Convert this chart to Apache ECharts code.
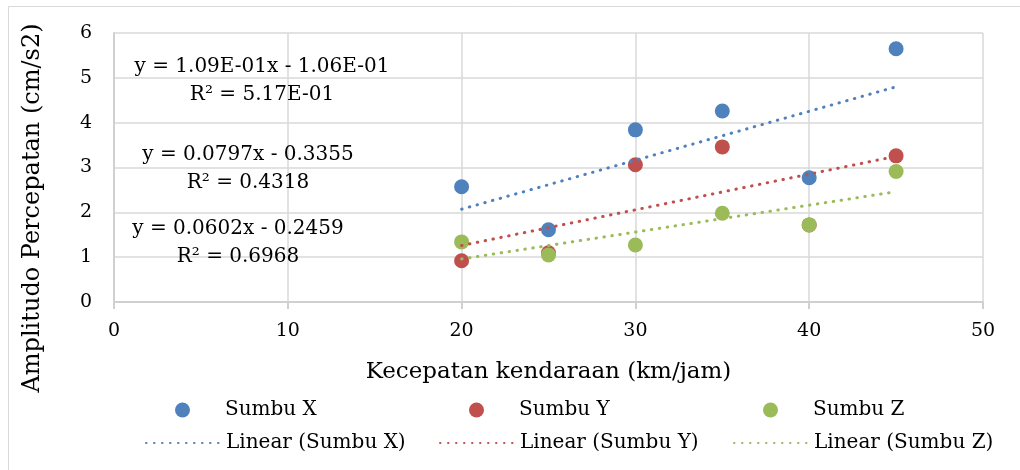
<!DOCTYPE html>
<html>
<head>
<meta charset="utf-8">
<script src="https://cdn.jsdelivr.net/npm/echarts@6/dist/echarts.min.js"></script>
<style>html,body{margin:0;padding:0;background:#fff}#c{width:1020px;height:470px}</style>
</head>
<body>
<div id="c"></div>
<script>
// Data
const speeds = [20, 25, 30, 35, 40, 45];
const sumbuX = [2.57, 1.61, 3.84, 4.26, 2.77, 5.65];
const sumbuY = [0.92, 1.10, 3.06, 3.46, 1.72, 3.26];
const sumbuZ = [1.34, 1.05, 1.27, 1.98, 1.72, 2.91];
// Trend line endpoints (x = 20 and x = 45)
const trendX = [20, 45];
const trendSumbuX = [2.07, 4.80];
const trendSumbuY = [1.26, 3.25];
const trendSumbuZ = [0.96, 2.46];
const seriesNames = ['Sumbu X', 'Sumbu Y', 'Sumbu Z'];
const trendNames = ['Linear (Sumbu X)', 'Linear (Sumbu Y)', 'Linear (Sumbu Z)'];
const equations = [
  ['y = 1.09E-01x - 1.06E-01', 'R² = 5.17E-01'],
  ['y = 0.0797x - 0.3355', 'R² = 0.4318'],
  ['y = 0.0602x - 0.2459', 'R² = 0.6968']
];
const xTitle = 'Kecepatan kendaraan (km/jam)';
const yTitle = 'Amplitudo Percepatan (cm/s2)';

const colors = ['#4F81BD', '#C0504D', '#9BBB59'];
const FONT = 'DejaVu Serif';
const pts = a => speeds.map((s, i) => [s, a[i]]);
const tline = a => trendX.map((s, i) => [s, a[i]]);

const chart = echarts.init(document.getElementById('c'));
const scatterData = [sumbuX, sumbuY, sumbuZ];
const trendData = [trendSumbuX, trendSumbuY, trendSumbuZ];

const series = [];
scatterData.forEach((d, i) => series.push({
  name: seriesNames[i], type: 'scatter', data: pts(d), symbol: 'circle', symbolSize: 15,
  itemStyle: { color: colors[i], opacity: 1 }, z: 2, silent: true
}));
trendData.forEach((d, i) => series.push({
  name: trendNames[i], type: 'line', data: tline(d), showSymbol: false, symbol: 'none',
  lineStyle: { color: colors[i], width: 3, type: [0.5, 7.5], cap: 'round' },
  itemStyle: { color: colors[i] }, z: 3, silent: true
}));

const legendLefts = [145, 439, 733];
const legends = [];
seriesNames.forEach((n, i) => legends.push({
  data: [n], left: legendLefts[i] + 30, top: 400, padding: 0,
  itemWidth: 75, itemHeight: 15, selectedMode: false,
  textStyle: { fontFamily: FONT, fontSize: 20, color: '#000' }
}));
trendNames.forEach((n, i) => legends.push({
  data: [n], left: legendLefts[i], top: 433, padding: 0,
  itemWidth: 75, itemHeight: 15, selectedMode: false,
  itemStyle: { opacity: 0 },
  textStyle: { fontFamily: FONT, fontSize: 20, color: '#000' }
}));

const eqPos = [[262, 67, 95], [248, 155, 183], [238, 229, 257]];
const graphics = [
  { type: 'rect', left: 6, top: 4, silent: true,
    shape: { x: 0, y: 0, width: 1040, height: 500 },
    style: { fill: 'none', stroke: '#d9d9d9', lineWidth: 1 } },
  { type: 'text', x: 33, y: 208, rotation: Math.PI / 2, silent: true,
    style: { text: yTitle, fontFamily: FONT, fontSize: 24, fill: '#000', align: 'center', verticalAlign: 'middle' } }
];
equations.forEach((e, i) => {
  graphics.push({ type: 'text', x: eqPos[i][0], y: eqPos[i][1], silent: true, z: 10,
    style: { text: e[0], fontFamily: FONT, fontSize: 20, fill: '#000', align: 'center', verticalAlign: 'middle' } });
  graphics.push({ type: 'text', x: eqPos[i][0], y: eqPos[i][2], silent: true, z: 10,
    style: { text: e[1], fontFamily: FONT, fontSize: 20, fill: '#000', align: 'center', verticalAlign: 'middle' } });
});

chart.setOption({
  animation: false,
  backgroundColor: '#fff',
  grid: { left: 114, right: 37, top: 33, bottom: 168, containLabel: false },
  xAxis: {
    type: 'value', min: 0, max: 50, interval: 10,
    name: xTitle, nameLocation: 'middle', nameGap: 59,
    nameTextStyle: { fontFamily: FONT, fontSize: 23, color: '#000' },
    axisLine: { show: true, onZero: false, lineStyle: { color: '#d0d0d0', width: 2 } },
    axisTick: { show: true, length: 7, lineStyle: { color: '#d0d0d0', width: 2 } },
    axisLabel: { fontFamily: FONT, fontSize: 19, color: '#000', margin: 20 },
    splitLine: { show: true, lineStyle: { color: '#d9d9d9', width: 1.5 } }
  },
  yAxis: {
    type: 'value', min: 0, max: 6, interval: 1,
    axisLine: { show: true, lineStyle: { color: '#d0d0d0', width: 2 } },
    axisTick: { show: false },
    axisLabel: { fontFamily: FONT, fontSize: 19, color: '#000', margin: 22 },
    splitLine: { show: true, lineStyle: { color: '#d9d9d9', width: 1.5 } }
  },
  legend: legends,
  graphic: graphics,
  series: series
});
</script>
</body>
</html>
